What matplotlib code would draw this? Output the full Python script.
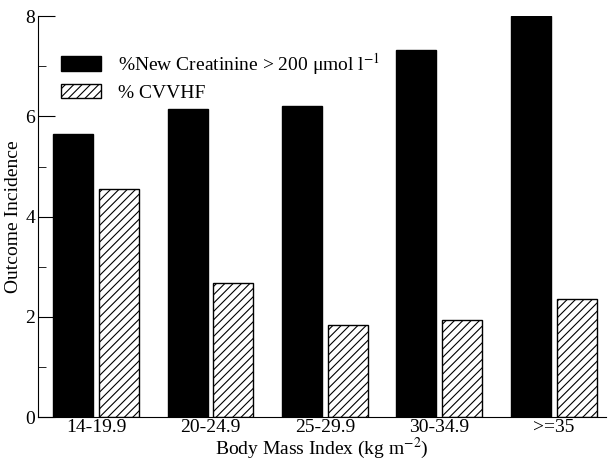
import matplotlib
matplotlib.use("Agg")
import matplotlib.pyplot as plt
import numpy as np

plt.rcParams['font.family'] = ['Liberation Serif', 'DejaVu Serif']
plt.rcParams['mathtext.fontset'] = 'stix'
plt.rcParams['hatch.linewidth'] = 0.8

# dados
categories = ["14-19.9", "20-24.9", "25-29.9", "30-34.9", ">=35"]
creatinine = [5.64, 6.15, 6.20, 7.33, 8.0]
cvvhf = [4.55, 2.67, 1.83, 1.93, 2.36]

fig = plt.figure(figsize=(6.1, 4.63), dpi=100)
ax = fig.add_axes([0.062, 0.099, 0.931, 0.866])

x = np.arange(len(categories))
w = 0.35
gap = 0.05
ax.bar(x - (w + gap) / 2, creatinine, w, color="black", edgecolor="black",
       label="%New Creatinine > 200 \u03bcmol l$^{-1}$")
ax.bar(x + (w + gap) / 2, cvvhf, w, color="white", edgecolor="black",
       hatch="////", linewidth=1, label="% CVVHF")

ax.set_xlim(-0.51, 4.455)
ax.set_ylim(0, 8)
ax.set_xticks(x)
ax.set_xticklabels(categories)
ax.set_yticks([0, 2, 4, 6, 8])
ax.set_yticks([1, 3, 5, 7], minor=True)
ax.tick_params(axis='x', length=0, labelsize=14, pad=1.5)
ax.tick_params(axis='y', which='major', direction='in', length=12, labelsize=14, pad=2)
ax.tick_params(axis='y', which='minor', direction='in', length=6)

ax.spines['top'].set_visible(False)
ax.spines['right'].set_visible(False)

ax.set_xlabel("Body Mass Index (kg m$^{-2}$)", fontsize=14, labelpad=-0.5)
ax.set_ylabel("Outcome Incidence", fontsize=14, labelpad=2)

ax.legend(loc='upper left', bbox_to_anchor=(0.0995, 0.89), bbox_transform=fig.transFigure,
          frameon=False, fontsize=14, handlelength=2.05, handleheight=0.75,
          handletextpad=0.9, labelspacing=0.35, borderpad=0, borderaxespad=0)

fig.savefig("out.png", dpi=100)
